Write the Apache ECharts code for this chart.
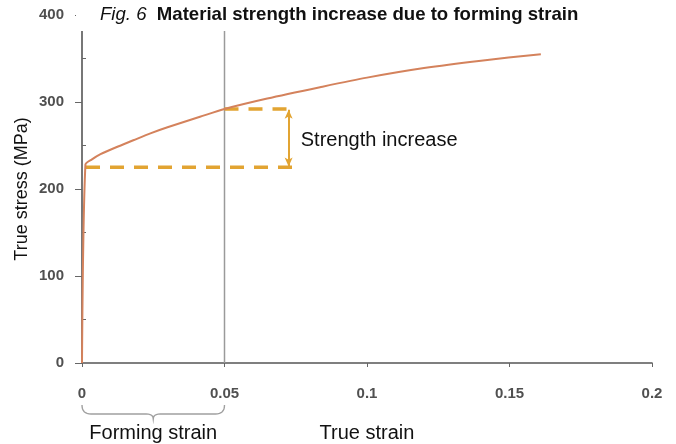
<!DOCTYPE html>
<html>
<head>
<meta charset="utf-8">
<script src="https://cdn.jsdelivr.net/npm/echarts@6/dist/echarts.min.js"></script>
<style>html,body{margin:0;padding:0;background:#fff}#c{width:676px;height:444px}</style>
</head>
<body>
<div id="c"></div>
<script>
// ---- data ----
const strain = [0, 0.0012, 0.0035, 0.0065, 0.012, 0.018, 0.024, 0.030, 0.0414, 0.05, 0.065, 0.0835, 0.10, 0.12, 0.14, 0.161];
const stress = [0, 228, 234, 240, 248, 256, 264, 271, 283, 292, 304, 317, 328, 339, 347.5, 355];
const xTicks = [0, 0.05, 0.1, 0.15, 0.2];
const yTicks = [0, 100, 200, 300, 400];
const formingStrain = 0.05;
const yieldStress = 225;
const formedStress = 292;
const dashEndStrain = 0.075;
const arrowStrain = 0.0725;
const titleItalic = 'Fig. 6';
const titleBold = 'Material strength increase due to forming strain';
const xName = 'True strain';
const yName = 'True stress (MPa)';
const annStrength = 'Strength increase';
const annForming = 'Forming strain';

const FONT = 'Liberation Sans, Arial, Helvetica, sans-serif';
const ORANGE = '#e2a432';
const chart = echarts.init(document.getElementById('c'), null, {renderer: 'canvas'});

const curve = strain.map((s, i) => [s, stress[i]]);
const tickLabel = {fontFamily: FONT, fontWeight: 'bold', fontSize: 15, color: '#505050'};

chart.setOption({
  animation: false,
  backgroundColor: '#fff',
  grid: {left: 82, right: 24, top: 15, bottom: 81, containLabel: false, outerBoundsMode: 'none'},
  xAxis: {
    type: 'value', min: xTicks[0], max: xTicks[xTicks.length - 1], interval: 0.05,
    name: xName, nameLocation: 'middle', nameGap: 70, nameMoveOverlap: false,
    nameTextStyle: {fontFamily: FONT, fontSize: 20, color: '#111', verticalAlign: 'middle'},
    axisLine: {show: true, onZero: false, lineStyle: {color: '#555', width: 1.6}},
    axisTick: {show: true, length: 4, lineStyle: {color: '#666'}},
    axisLabel: Object.assign({margin: 23, formatter: v => String(+v.toFixed(2))}, tickLabel),
    splitLine: {show: false}
  },
  yAxis: [{
    type: 'value', min: yTicks[0], max: yTicks[yTicks.length - 1], interval: 100,
    name: yName, nameLocation: 'middle', nameGap: 60, nameRotate: 90, nameMoveOverlap: false,
    nameTextStyle: {fontFamily: FONT, fontSize: 18, color: '#111', verticalAlign: 'middle'},
    axisLine: {show: true, onZero: false, lineStyle: {color: '#555', width: 1.6}},
    axisTick: {show: true, length: 7, lineStyle: {color: '#666'}},
    axisLabel: Object.assign({margin: 18}, tickLabel),
    splitLine: {show: false}
  }, {
    type: 'value', min: yTicks[0], max: yTicks[yTicks.length - 1], interval: 100,
    position: 'left', show: true,
    axisLine: {show: false}, axisLabel: {show: false}, splitLine: {show: false},
    axisTick: {show: false, inside: true},
    minorTick: {show: true, splitNumber: 2, length: 4, lineStyle: {color: '#666', width: 1}}
  }],
  series: [
    {
      name: 'forming', type: 'line', symbol: 'none', silent: true, z: 1,
      data: [[formingStrain, yTicks[0]], [formingStrain, yTicks[yTicks.length - 1]]],
      lineStyle: {color: '#9a9a9a', width: 1.5}
    },
    {
      name: 'yield', type: 'line', symbol: 'none', silent: true, z: 3,
      data: [[0, yieldStress], [dashEndStrain, yieldStress]],
      lineStyle: {color: ORANGE, width: 3.5, type: [14, 10], dashOffset: -4}
    },
    {
      name: 'formed', type: 'line', symbol: 'none', silent: true, z: 3,
      data: [[formingStrain, formedStress], [dashEndStrain, formedStress]],
      lineStyle: {color: ORANGE, width: 3.5, type: [14, 10]}
    },
    {
      name: 'arrow', type: 'line', symbol: 'none', silent: true, z: 3,
      data: [],
      markLine: {
        silent: true, symbol: ['arrow', 'arrow'], symbolSize: [6, 9],
        label: {show: false},
        lineStyle: {color: ORANGE, width: 2, type: 'solid'},
        data: [[{coord: [arrowStrain, yieldStress + 1]}, {coord: [arrowStrain, formedStress - 1]}]]
      }
    },
    {
      name: 'curve', type: 'line', symbol: 'none', smooth: 0.25, z: 4,
      data: curve,
      lineStyle: {color: '#d4825c', width: 2}
    }
  ]
});

function px(p) { return chart.convertToPixel({gridIndex: 0}, p); }
const o = px([0, 0]);
const f = px([formingStrain, 0]);
const a = px([dashEndStrain, (yieldStress + formedStress) / 2]);
const axTop = px([0, yTicks[yTicks.length - 1]]);
const bx0 = o[0], bx1 = f[0], bm = (bx0 + bx1) / 2;
const by0 = o[1] + 42, by1 = by0 + 9, byt = by1 + 5;

// quadratic bezier sampler for the brace
function quad(p0, c, p1, n) {
  const pts = [];
  for (let i = 0; i <= n; i++) {
    const t = i / n, u = 1 - t;
    pts.push([u * u * p0[0] + 2 * u * t * c[0] + t * t * p1[0], u * u * p0[1] + 2 * u * t * c[1] + t * t * p1[1]]);
  }
  return pts;
}
const bracePts = [].concat(
  quad([bx0, by0], [bx0, by1], [bx0 + 9, by1], 8),
  quad([bm - 7, by1], [bm, by1], [bm, byt], 6),
  quad([bm, byt], [bm, by1], [bm + 7, by1], 6),
  quad([bx1 - 9, by1], [bx1, by1], [bx1, by0], 8)
);

chart.setOption({
  graphic: [
    {type: 'rect', z: 50, shape: {x: o[0] - 6, y: 0, width: 700, height: axTop[1] + 16}, style: {fill: '#fff'}},
    {type: 'text', z: 60, x: 100, y: 15, style: {
      text: '{i|' + titleItalic + '}  {b|' + titleBold + '}', verticalAlign: 'middle',
      rich: {
        i: {fontFamily: FONT, fontStyle: 'italic', fontSize: 18.6, fill: '#111'},
        b: {fontFamily: FONT, fontWeight: 'bold', fontSize: 18.6, fill: '#111'}
      }, fontFamily: FONT, fontSize: 18.6
    }},
    {type: 'text', z: 60, x: a[0] + 5, y: a[1] + 2, style: {
      text: annStrength, fontFamily: FONT, fontSize: 20, fill: '#111', verticalAlign: 'middle', align: 'left'
    }},
    {type: 'text', z: 60, x: bm, y: o[1] + 70, style: {
      text: annForming, fontFamily: FONT, fontSize: 20, fill: '#111', verticalAlign: 'middle', align: 'center'
    }},
    {type: 'polyline', z: 60, shape: {points: bracePts}, style: {fill: null, stroke: '#a0a0a0', lineWidth: 1.4}}
  ]
});
</script>
</body>
</html>
